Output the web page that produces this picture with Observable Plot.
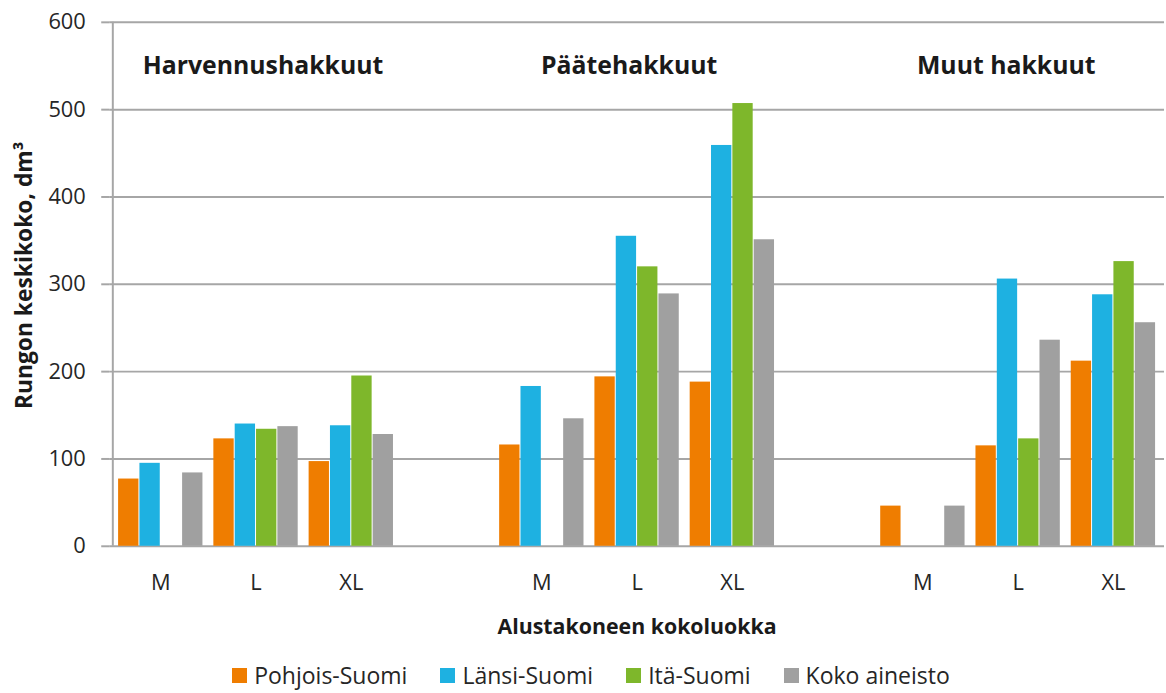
<!DOCTYPE html>
<html>
<head>
<meta charset="utf-8">
<script src="https://cdn.jsdelivr.net/npm/d3@7"></script>
<script src="https://cdn.jsdelivr.net/npm/@observablehq/plot@0.6"></script>
<style>
  html, body { margin: 0; padding: 0; background: #fff; overflow: hidden; }
  body { width: 1166px; height: 693px; font-family: "Open Sans", sans-serif; color: #262626; }
  #chart svg { display: block; }
  .legend { display: flex; justify-content: center; align-items: center; width: 1182px; gap: 33px; height: 34px; margin-top: 13px; font-size: 23px; line-height: 30px; color: #262626; }
  .legend .item { display: flex; align-items: center; gap: 7px; }
  .legend .sw { width: 15px; height: 15px; display: inline-block; }
</style>
</head>
<body>
<div id="chart"></div>
<script>
// ---- data ----
const slots = ["H-M","H-L","H-XL","gap1","P-M","P-L","P-XL","gap2","U-M","U-L","U-XL"];
const slotLabels = ["M","L","XL","","M","L","XL","","M","L","XL"];
const series = ["Pohjois-Suomi","Länsi-Suomi","Itä-Suomi","Koko aineisto"];
const colors = ["#EF7D00","#1EB1E1","#7EB72B","#A0A0A0"];
const pohjoisSuomi = [77, 123, 97, null, 116, 194, 188, null, 46, 115, 212];
const lansiSuomi   = [95, 140, 138, null, 183, 355, 459, null, null, 306, 288];
const itaSuomi     = [null, 134, 195, null, null, 320, 507, null, null, 123, 326];
const kokoAineisto = [84, 137, 128, null, 146, 289, 351, null, 46, 236, 256];
const groupTitles = ["Harvennushakkuut","Päätehakkuut","Muut hakkuut"];
const groupTitleSlots = ["H-L","P-L","U-L"];
const groupTitleValue = 550;
const yTicks = [0,100,200,300,400,500,600];

const seriesValues = [pohjoisSuomi, lansiSuomi, itaSuomi, kokoAineisto];

// ---- layout ----
const W = 1175, H = 650, mL = 110, mR = 2, mT = 22, mB = 100;
const padInner = 0.11, padOuter = 0.055;
const step = (W - mL - mR) / (slots.length - padInner + 2 * padOuter);
const bw = step * (1 - padInner);
const sub = bw / series.length;
const titleDx = [7, -8, -12];

const rows = series.map((s, i) => slots.map((slot, j) => ({slot, series: s, value: seriesValues[i][j]}))
  .filter(d => d.value != null));

const labelMap = new Map(slots.map((s, i) => [s, slotLabels[i]]));
const gridColor = "#A6A6A6";
const font = "'Open Sans', sans-serif";

const marks = [
  Plot.ruleY(yTicks, {stroke: gridColor, strokeWidth: 2})
];
rows.forEach((data, i) => {
  marks.push(Plot.barY(data, {
    x: "slot", y: "value", fill: colors[i],
    insetLeft: i * sub, insetRight: (series.length - 1 - i) * sub
  }));
});
marks.push(Plot.ruleX([slots[0]], {stroke: gridColor, strokeWidth: 2, y1: 0, y2: 600, dx: -bw / 2 - step * padOuter}));
groupTitles.forEach((t, i) => {
  marks.push(Plot.text([{t, slot: groupTitleSlots[i], v: groupTitleValue}], {
    x: "slot", y: "v", text: "t", fontSize: 25, fontWeight: "bold", fill: "#1a1a1a", dx: titleDx[i]
  }));
});

const chart = Plot.plot({
  width: W, height: H,
  marginLeft: mL, marginRight: mR, marginTop: mT, marginBottom: mB,
  style: {fontFamily: font, fontSize: "22px", color: "#262626", background: "#fff"},
  x: {
    domain: slots, paddingInner: padInner, paddingOuter: padOuter, align: 0.5,
    tickSize: 0, tickPadding: 28, tickFormat: d => labelMap.get(d),
    label: "Alustakoneen kokoluokka", labelAnchor: "center", labelOffset: 88, labelArrow: "none"
  },
  y: {
    domain: [0, 600], ticks: yTicks, tickSize: 8, tickPadding: 16,
    label: "Rungon keskikoko, dm³", labelAnchor: "center", labelOffset: 108, labelArrow: "none"
  },
  marks
});

chart.querySelectorAll("g[aria-label='x-axis label'] text").forEach(t => {
  t.setAttribute("font-weight", "bold");
  t.setAttribute("font-size", "21.5px");
  t.setAttribute("fill", "#1a1a1a");
});
chart.querySelectorAll("g[aria-label='y-axis label'] text").forEach(t => {
  t.setAttribute("font-weight", "bold");
  t.setAttribute("fill", "#1a1a1a");
  t.setAttribute("dy", "0.6em");
  t.setAttribute("dx", "9");
  t.setAttribute("font-size", "23px");
});
chart.querySelectorAll("g[aria-label='y-axis tick'] path").forEach(p => {
  p.setAttribute("stroke", gridColor); p.setAttribute("stroke-width", 2);
});

document.getElementById("chart").appendChild(chart);

// legend
const legend = document.createElement("div");
legend.className = "legend";
series.forEach((s, i) => {
  const item = document.createElement("div");
  item.className = "item";
  const sw = document.createElement("span");
  sw.className = "sw"; sw.style.background = colors[i];
  const lab = document.createElement("span");
  lab.textContent = s;
  item.appendChild(sw); item.appendChild(lab);
  legend.appendChild(item);
});
document.body.appendChild(legend);
</script>
</body>
</html>
